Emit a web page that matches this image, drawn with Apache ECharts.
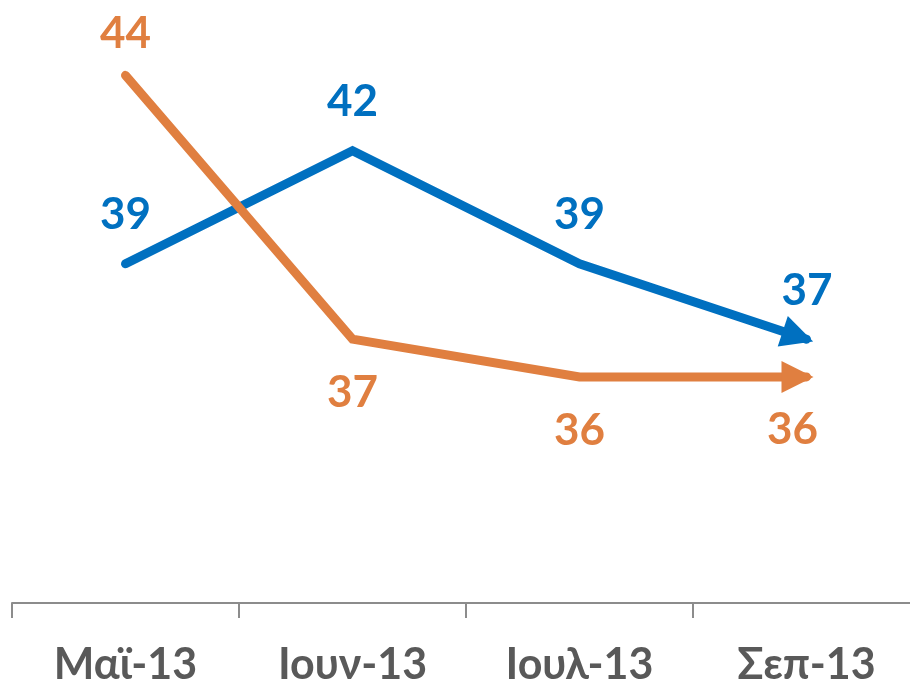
<!DOCTYPE html>
<html>
<head>
<meta charset="utf-8">
<script src="https://cdn.jsdelivr.net/npm/echarts@6/dist/echarts.min.js"></script>
<style>
  html, body { margin: 0; padding: 0; background: #ffffff; }
  #chart { width: 910px; height: 684px; }
</style>
</head>
<body>
<div id="chart"></div>
<script>
// categories and values
var months = ['Μαϊ-13', 'Ιουν-13', 'Ιουλ-13', 'Σεπ-13'];
var blueValues = [39, 42, 39, 37];
var orangeValues = [44, 37, 36, 36];

var BLUE = '#0070C0';
var ORANGE = '#E07F40';
var FONT = 'Lato, "Noto Sans", sans-serif';

var chart = echarts.init(document.getElementById('chart'), null, { renderer: 'canvas' });

function labelOf(color, pos, dist) {
  return {
    show: true,
    position: pos,
    distance: dist,
    color: color,
    fontSize: 44,
    fontWeight: 'bold',
    fontFamily: FONT
  };
}

// blue labels all sit above the line, orange ones below except the first
var blueData = blueValues.map(function (v) {
  return { value: v, label: labelOf(BLUE, 'top', 27) };
});
var orangeData = orangeValues.map(function (v, i) {
  if (i === 0) return { value: v, label: labelOf(ORANGE, 'top', 19.5) };
  return { value: v, label: labelOf(ORANGE, 'bottom', 32) };
});
// last labels hang off the arrowhead box, so they need their own spacing
blueData[3].label.distance = 3;
blueData[3].label.offset = [9, 0];
orangeData[3].label.distance = 15;
orangeData[3].label.offset = [-5, 0];

var option = {
  backgroundColor: '#ffffff',
  animation: false,
  grid: { left: 12, width: 908, top: 0, bottom: 81, outerBoundsMode: 'none', containLabel: false },
  xAxis: {
    type: 'category',
    data: months,
    boundaryGap: true,
    axisLine: { lineStyle: { color: '#8C8C8C', width: 2 } },
    axisTick: { show: true, length: 15, lineStyle: { color: '#8C8C8C', width: 2 } },
    axisLabel: {
      color: '#595959',
      fontSize: 43,
      fontWeight: 'bold',
      fontFamily: FONT,
      margin: 41
    }
  },
  yAxis: {
    type: 'value',
    min: 30,
    max: 46,
    show: false,
    splitLine: { show: false }
  },
  series: [
    {
      name: 'blue',
      type: 'line',
      data: blueData,
      symbol: 'circle',
      symbolSize: 0,
      showSymbol: true,
      lineStyle: { color: BLUE, width: 9, cap: 'round', join: 'miter' },
      itemStyle: { color: BLUE },
      z: 2
    },
    {
      name: 'orange',
      type: 'line',
      data: orangeData,
      symbol: 'circle',
      symbolSize: 0,
      showSymbol: true,
      lineStyle: { color: ORANGE, width: 9, cap: 'round', join: 'miter' },
      itemStyle: { color: ORANGE },
      z: 3
    }
  ]
};
chart.setOption(option);

// put a triangle arrowhead on the last point, turned along the last segment
function arrowFor(values, data) {
  var n = values.length;
  var a = chart.convertToPixel({ seriesIndex: 0 }, [n - 2, values[n - 2]]);
  var b = chart.convertToPixel({ seriesIndex: 0 }, [n - 1, values[n - 1]]);
  var dx = b[0] - a[0], dy = b[1] - a[1];
  var len = Math.sqrt(dx * dx + dy * dy);
  var ux = dx / len, uy = dy / len;
  var deg = Math.atan2(-uy, ux) * 180 / Math.PI - 90;
  var last = data[n - 1];
  last.symbol = 'triangle';
  last.symbolSize = [32, 32];
  last.symbolRotate = deg;
  last.symbolOffset = [-9 * ux, -9 * uy];
}
arrowFor(blueValues, blueData);
arrowFor(orangeValues, orangeData);
chart.setOption({
  series: [
    { data: blueData },
    { data: orangeData }
  ]
});
</script>
</body>
</html>
